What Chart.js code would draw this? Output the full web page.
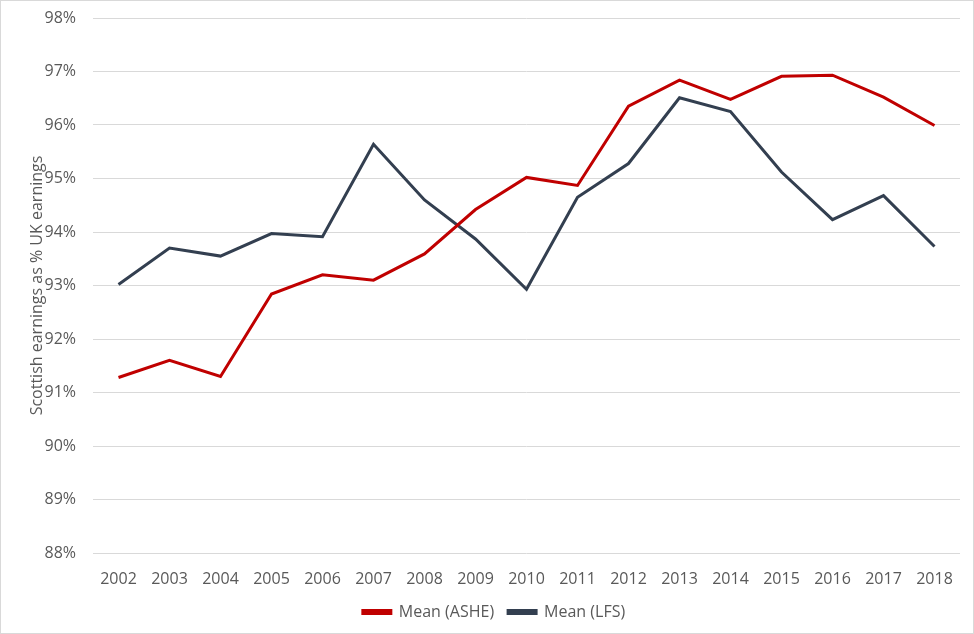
<!DOCTYPE html>
<html>
<head>
<meta charset="utf-8">
<script src="https://cdn.jsdelivr.net/npm/chart.js@4.4.1/dist/chart.umd.min.js"></script>
<style>
    html, body { margin: 0; padding: 0; background: #fff; }
    #wrap { width: 974px; height: 634px; box-sizing: border-box; border: 1px solid #D9D9D9; }
</style>
</head>
<body>
<div id="wrap"><canvas id="chart" width="972" height="632"></canvas></div>
<script>
const years = ['2002', '2003', '2004', '2005', '2006', '2007', '2008', '2009', '2010',
    '2011', '2012', '2013', '2014', '2015', '2016', '2017', '2018'];
const meanASHE = [91.28, 91.60, 91.30, 92.84, 93.20, 93.10, 93.59, 94.42, 95.02,
    94.87, 96.35, 96.84, 96.48, 96.91, 96.93, 96.52, 95.99];
const meanLFS = [93.02, 93.70, 93.55, 93.97, 93.91, 95.64, 94.60, 93.87, 92.93,
    94.65, 95.28, 96.51, 96.25, 95.12, 94.23, 94.68, 93.73];
const yMin = 88, yMax = 98;

const textColor = '#595959';
const fontFam = "'Open Sans', sans-serif";

const ctx = document.getElementById('chart').getContext('2d');
new Chart(ctx, {
    type: 'line',
    data: {
        labels: years,
        datasets: [{
            label: 'Mean (ASHE)',
            data: meanASHE,
            borderColor: '#C00000',
            backgroundColor: '#C00000',
            borderWidth: 3,
            pointRadius: 0,
            tension: 0
        }, {
            label: 'Mean (LFS)',
            data: meanLFS,
            borderColor: '#333F50',
            backgroundColor: '#333F50',
            borderWidth: 3,
            pointRadius: 0,
            tension: 0
        }]
    },
    options: {
        responsive: false,
        animation: false,
        layout: { padding: { left: 27, right: 13, top: 17, bottom: 3 } },
        plugins: {
            tooltip: { enabled: false },
            legend: {
                position: 'bottom',
                labels: {
                    boxWidth: 28,
                    boxHeight: 3,
                    padding: 14,
                    color: textColor,
                    font: { family: fontFam, size: 16 }
                }
            }
        },
        scales: {
            x: {
                offset: true,
                afterFit: (scale) => { scale.height = 37; },
                grid: { display: false, drawTicks: false },
                border: { display: false },
                ticks: { color: textColor, font: { family: fontFam, size: 16 }, padding: 17, maxRotation: 0 }
            },
            y: {
                min: yMin,
                max: yMax,
                // fixed width, and drop the extra label padding so the plot can reach the top padding
                afterFit: (scale) => {
                    scale.width = 65;
                    scale.paddingTop = 0;
                    scale.paddingBottom = 0;
                },
                grid: { color: '#D9D9D9', lineWidth: 1, drawTicks: false },
                border: { display: false },
                ticks: {
                    stepSize: 1,
                    padding: 17,
                    color: textColor,
                    font: { family: fontFam, size: 16 },
                    callback: (v) => v + '%'
                },
                title: {
                    display: true,
                    text: 'Scottish earnings as % UK earnings',
                    color: textColor,
                    padding: 0,
                    font: { family: fontFam, size: 16 }
                }
            }
        }
    }
});
</script>
</body>
</html>
